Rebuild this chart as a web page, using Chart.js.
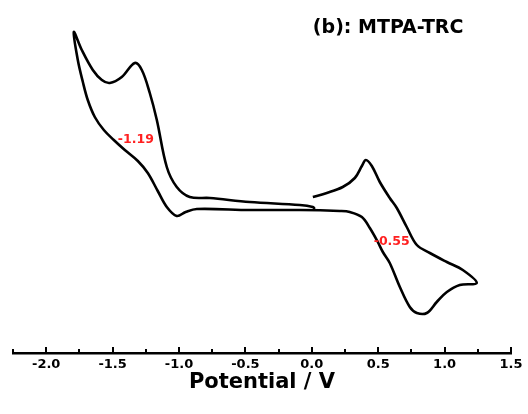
<!DOCTYPE html>
<html>
<head>
<meta charset="utf-8">
<script src="https://cdn.jsdelivr.net/npm/chart.js@4.4.1/dist/chart.umd.min.js"></script>
<style>
  html, body { margin: 0; padding: 0; background: #fff; }
  #cv { display: block; }
</style>
</head>
<body>
<canvas id="cv" width="528" height="414"></canvas>
<script>
// Cyclic voltammogram of MTPA-TRC
// potential in V, current in arbitrary units (about 0 on the flat baseline)
const potential = [
  0.008, 0.113, 0.233, 0.324, 0.377, 0.407, 0.452, 0.512, 0.587, 0.640,
  0.715, 0.791, 0.889, 1.017, 1.137, 1.242,
  1.114, 1.017, 0.941, 0.866, 0.791, 0.738, 0.663, 0.587, 0.535, 0.497,
  0.437, 0.377, 0.286, 0.211, -0.090, -0.467, -0.866, -0.950, -1.017,
  -1.092, -1.160, -1.235, -1.310, -1.408, -1.491, -1.566, -1.634, -1.687,
  -1.724, -1.762, -1.792,
  -1.732, -1.649, -1.581, -1.521, -1.431, -1.333, -1.280, -1.220, -1.167,
  -1.092, -1.017, -0.919, -0.768, -0.467, -0.090, 0.008, 0.023
];
const current = [
  1.4, 1.8, 2.4, 3.3, 4.5, 5.1, 4.5, 2.9, 1.3, 0.3,
  -1.6, -3.4, -4.2, -5.1, -5.9, -7.2,
  -7.4, -8.1, -9.1, -10.2, -10.2, -9.6, -7.6, -5.2, -4.1, -3.1,
  -1.7, -0.6, -0.1, 0.0, 0.1, 0.1, 0.2, -0.1, -0.5,
  0.4, 2.0, 3.8, 5.0, 6.1, 7.1, 8.1, 9.4, 11.1,
  12.9, 15.1, 17.9,
  16.1, 14.1, 13.1, 12.8, 13.4, 14.8, 14.1, 11.8, 9.1,
  4.4, 2.4, 1.4, 1.3, 0.9, 0.6, 0.4, 0.2
];

// axis ticks
const tickValues = [-2.0, -1.5, -1.0, -0.5, 0.0, 0.5, 1.0, 1.5];
const minorTicks = [-2.25, -1.75, -1.25, -0.75, -0.25, 0.25, 0.75, 1.25];

// red peak labels
const peakLabels = ['-1.19', '-0.55'];
const peakX = [-1.325, 0.602];
const peakY = [7.1, -3.1];

const FONT = '"DejaVu Sans", "Liberation Sans", Arial, sans-serif';

const points = potential.map((v, i) => ({ x: v, y: current[i] }));

// inward ticks on the x axis + text annotations
const decorPlugin = {
  id: 'decor',
  afterDraw(chart) {
    const ctx = chart.ctx;
    const xs = chart.scales.x;
    const ys = chart.scales.y;
    const base = chart.chartArea.bottom;

    ctx.save();
    ctx.strokeStyle = '#000';
    ctx.lineWidth = 2;
    tickValues.forEach(v => {
      const px = Math.round(xs.getPixelForValue(v));
      ctx.beginPath();
      ctx.moveTo(px, base);
      ctx.lineTo(px, base - 6);
      ctx.stroke();
    });
    minorTicks.forEach(v => {
      const px = Math.round(xs.getPixelForValue(v));
      ctx.beginPath();
      ctx.moveTo(px, base);
      ctx.lineTo(px, base - 4);
      ctx.stroke();
    });

    // peak labels
    ctx.fillStyle = '#ff2020';
    ctx.font = 'bold 12.5px ' + FONT;
    ctx.textAlign = 'center';
    ctx.textBaseline = 'middle';
    peakLabels.forEach((t, i) => {
      ctx.fillText(t, xs.getPixelForValue(peakX[i]), ys.getPixelForValue(peakY[i]));
    });

    // panel title
    ctx.fillStyle = '#000';
    ctx.font = 'bold 19px ' + FONT;
    ctx.textAlign = 'left';
    ctx.fillText('(b): MTPA-TRC', xs.getPixelForValue(0.008), 28);
    ctx.restore();
  }
};

const chart = new Chart(document.getElementById('cv'), {
  type: 'scatter',
  data: {
    datasets: [{
      data: points,
      showLine: true,
      borderColor: '#000',
      borderWidth: 2.6,
      pointRadius: 0,
      tension: 0.35,
      fill: false
    }]
  },
  options: {
    responsive: false,
    animation: false,
    devicePixelRatio: 1,
    layout: {
      padding: { left: 13, right: 17, top: 0, bottom: 0 }
    },
    plugins: {
      legend: { display: false },
      tooltip: { enabled: false }
    },
    scales: {
      x: {
        type: 'linear',
        position: 'bottom',
        min: -2.25,
        max: 1.5,
        grid: { display: false, drawTicks: false },
        border: { display: true, color: '#000', width: 2.5 },
        ticks: {
          stepSize: 0.5,
          includeBounds: false,
          padding: 4,
          color: '#000',
          font: { family: FONT, size: 13, weight: 'bold' },
          callback: v => v.toFixed(1)
        },
        title: {
          display: true,
          text: 'Potential / V',
          color: '#000',
          font: { family: FONT, size: 21, weight: 'bold' },
          padding: { top: 4, bottom: 19 }
        },
        afterFit: scale => { scale.height = 61; }
      },
      y: {
        display: false,
        min: -14.2,
        max: 21.1
      }
    }
  },
  plugins: [decorPlugin]
});
</script>
</body>
</html>
